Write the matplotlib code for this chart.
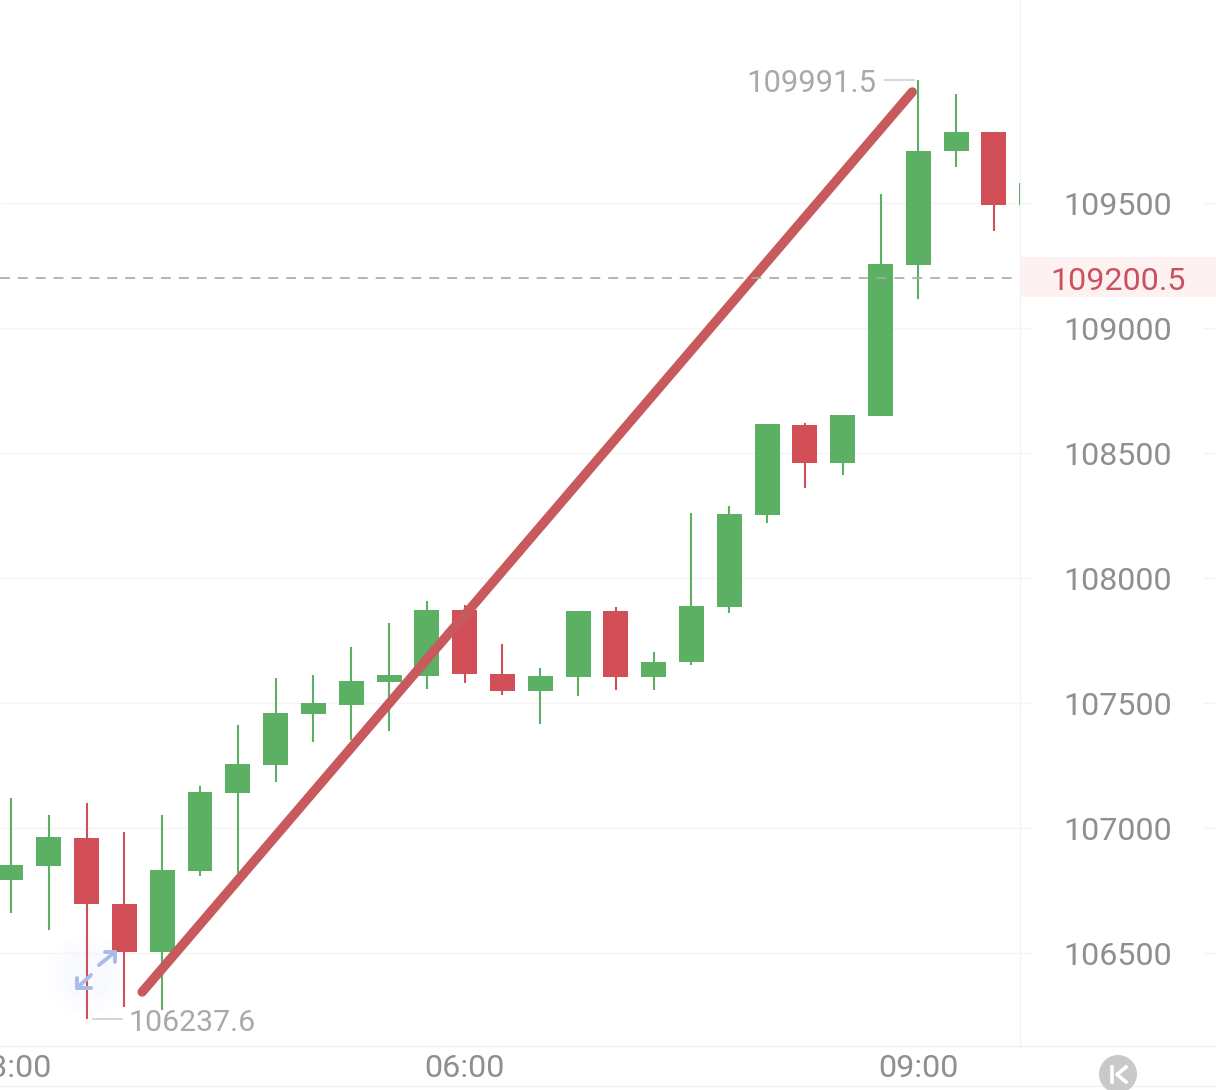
import matplotlib
matplotlib.use('Agg')
import matplotlib.pyplot as plt
from matplotlib.lines import Line2D
from matplotlib.patches import Circle, Rectangle
from matplotlib.transforms import ScaledTranslation

plt.rcParams['font.family'] = ['Roboto', 'DejaVu Sans']

# 15 min candles, first one is 03:00
opens = [106792, 106848, 106960, 106696, 106504, 106828, 107140, 107252, 107456, 107492,
         107584, 107608, 107872, 107616, 107548, 107604, 107868, 107604, 107664, 107884,
         108252, 108612, 108460, 108648, 109252, 109708, 109784, 109492]
closes = [106852, 106964, 106696, 106504, 106832, 107144, 107256, 107460, 107500, 107588,
          107612, 107872, 107616, 107548, 107608, 107868, 107604, 107664, 107888, 108256,
          108616, 108460, 108652, 109256, 109708, 109784, 109492, 109580]
highs = [107120, 107052, 107100, 106984, 107052, 107168, 107412, 107600, 107612, 107724,
         107820, 107908, 107892, 107736, 107640, 107868, 107884, 107704, 108260, 108288,
         108616, 108620, 108652, 109536, 109991.5, 109936, 109784, 109580]
lows = [106660, 106592, 106237.6, 106284, 106272, 106808, 106820, 107184, 107344, 107352,
        107388, 107556, 107580, 107532, 107416, 107528, 107552, 107552, 107652, 107860,
        108220, 108360, 108412, 108648, 109116, 109644, 109388, 109492]

price_ticks = [106500, 107000, 107500, 108000, 108500, 109000, 109500]
time_pos = [0, 12, 24]
time_labels = ['03:00', '06:00', '09:00']

last_price = 109200.5
high_price = 109991.5
low_price = 106237.6
high_idx = 24
low_idx = 2

trend_x = [3.47, 23.84]
trend_y = [106344, 109944]

GREEN = '#5cb063'
RED = '#d24f57'
GRAY = '#8f8f8f'
W, H = 1216, 1090
FS = 23.2


def px(x, y):
    return x / W, 1 - y / H


def main():
    fig = plt.figure(figsize=(W / 100, H / 100), dpi=100, facecolor='white')
    ax = fig.add_axes([0, 44 / H, 1020 / W, 1046 / H])
    ax.set_zorder(2)
    ax.patch.set_alpha(0)
    ax.set_xlim(-0.291, 26.69)
    ax.set_ylim(106128, 110312)
    for s in ax.spines.values():
        s.set_visible(False)

    # grid, with the gap around the right hand labels
    tr = ax.get_yaxis_transform()
    ax.hlines(price_ticks, 0, 1033 / 1020, transform=tr, color='#f4f4f4', lw=1, clip_on=False, zorder=0)
    ax.hlines(price_ticks, 1203 / 1020, W / 1020, transform=tr, color='#f4f4f4', lw=1, clip_on=False, zorder=0)

    # faint bubble under the arrows
    for r, c in [(40, '#fdfdff'), (33, '#fbfcff'), (25, '#f9faff')]:
        fig.add_artist(Circle((88, H - 975), r, transform=None, color=c, lw=0, zorder=0.5))

    fig.add_artist(Rectangle(px(1020, 297), 196 / W, 40 / H, color='#fdf2f1', lw=0, zorder=0.5))

    for i in range(len(opens)):
        color = GREEN if closes[i] >= opens[i] else RED
        ax.vlines(i, lows[i], highs[i], color=color, lw=1.5, zorder=2)
        ax.bar(i, abs(closes[i] - opens[i]), bottom=min(opens[i], closes[i]), width=0.66, color=color, zorder=2.5)

    ax.plot(trend_x, trend_y, color='#c8595c', lw=6.8, solid_capstyle='round', zorder=3)
    ax.hlines(last_price, -0.291, 26.55, color='#a8a8a8', lw=1.4, alpha=0.85,
              linestyles=[(0, (5.1, 4.1))], zorder=4)

    ax.yaxis.tick_right()
    ax.set_yticks(price_ticks)
    ax.set_yticklabels([str(p) for p in price_ticks], fontsize=FS, color=GRAY)
    ax.tick_params(axis='y', length=0, pad=31.5)
    ax.set_xticks(time_pos)
    ax.set_xticklabels(time_labels, fontsize=FS, color=GRAY)
    ax.tick_params(axis='x', length=0, pad=5.5)
    down = ScaledTranslation(0, -0.2 / 100, fig.dpi_scale_trans)
    for lab in ax.get_yticklabels():
        lab.set_transform(lab.get_transform() + down)

    # current price tag
    ax.text(1118 / 1020, last_price - 16, str(last_price), transform=tr, fontsize=FS, color='#c9525f',
            ha='center', va='center', clip_on=False)

    # high / low markers
    ax.hlines(high_price, high_idx - 0.9, high_idx - 0.1, color='#cfcfcf', lw=1.2)
    ax.text(high_idx - 1.1, high_price - 12, str(high_price), fontsize=22.3, color='#a9a9a9',
            ha='right', va='center')
    ax.hlines(low_price, low_idx + 0.15, low_idx + 0.95, color='#cfcfcf', lw=1.2)
    ax.text(low_idx + 1.1, low_price - 16, str(low_price), fontsize=21.8, color='#a9a9a9',
            ha='left', va='center')

    # arrows icon
    blue = '#a9bbe8'
    for seg in [((99, 965), (115, 952)), ((91, 975), (77, 988)),
                ((105, 952), (115, 952)), ((115, 952), (115, 962)),
                ((77, 978), (77, 988)), ((77, 988), (91, 988))]:
        fig.add_artist(Line2D([seg[0][0] / W, seg[1][0] / W],
                              [1 - seg[0][1] / H, 1 - seg[1][1] / H],
                              color=blue, lw=2.8, solid_capstyle='round', zorder=6))

    # frame lines
    fig.add_artist(Line2D([1020 / W, 1020 / W], [44 / H, 1], color='#f3f3f3', lw=1, zorder=0.6))
    for y in [1046, 1086]:
        fig.add_artist(Line2D([0, 1], [1 - y / H, 1 - y / H], color='#f1f1f1', lw=1, zorder=0.6))

    # K button
    fig.add_artist(Circle((1118, H - 1074), 19, transform=None, color='#c9c9c9', lw=0, zorder=5))
    fig.add_artist(Line2D([1112 / W, 1112 / W], [1 - 1067 / H, 1 - 1082 / H], color='white', lw=2.6, zorder=6))
    fig.add_artist(Line2D([1126 / W, 1117 / W, 1126 / W], [1 - 1067 / H, 1 - 1074.5 / H, 1 - 1082 / H],
                          color='white', lw=2.6, zorder=6))

    fig.savefig('out.png', dpi=100, facecolor='white')
    plt.close(fig)


if __name__ == '__main__':
    main()
